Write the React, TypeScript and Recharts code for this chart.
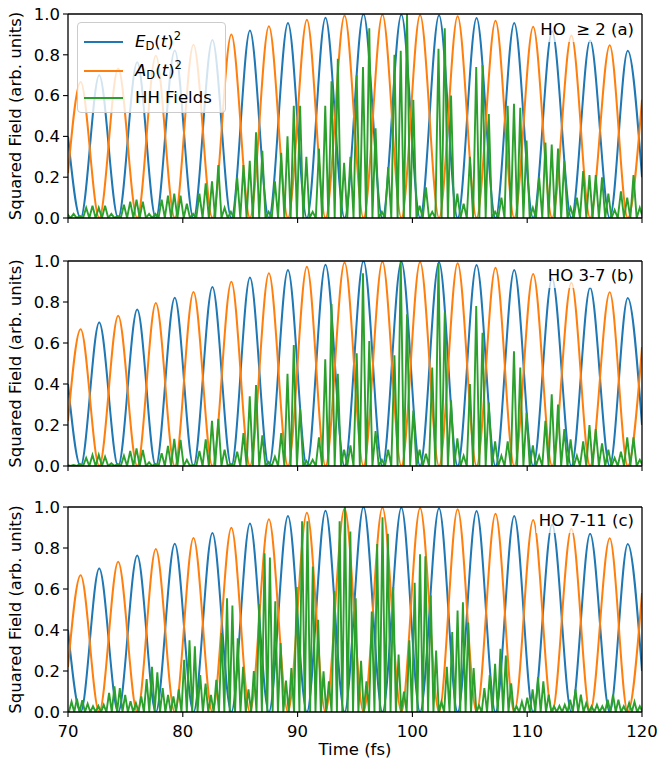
import React from 'react';
import { LineChart, Line, XAxis, YAxis, ReferenceLine, Legend } from 'recharts';

const FONT = '"DejaVu Sans", Verdana, sans-serif';
const BLUE = '#1f77b4';
const ORANGE = '#ff7f0e';
const GREEN = '#2ca02c';

const X_TICKS = [70, 80, 90, 100, 110, 120];
const Y_TICKS = [0, 0.2, 0.4, 0.6, 0.8, 1.0];

// driving field E_D(t)^2 : peaks (fs, value), zero where A_D(t)^2 peaks
const E_PEAK_T = [72.72, 76.03, 79.3, 82.58, 85.85, 89.16, 92.43, 95.74, 99.04, 102.32, 105.59, 108.87, 112.17, 115.48, 118.76];
const E_PEAK_V = [0.7, 0.763, 0.821, 0.873, 0.919, 0.956, 0.982, 1.0, 0.997, 0.994, 0.98, 0.956, 0.915, 0.87, 0.82];
const E_EDGE = [0.4, 0.2]; // value at 70 fs and 120 fs

// vector potential A_D(t)^2
const A_PEAK_T = [71.1, 74.37, 77.65, 80.93, 84.23, 87.5, 90.81, 94.09, 97.39, 100.67, 103.94, 107.24, 110.52, 113.85, 117.19];
const A_PEAK_V = [0.667, 0.733, 0.795, 0.849, 0.899, 0.94, 0.972, 0.993, 0.997, 0.995, 0.989, 0.967, 0.937, 0.894, 0.847];
const A_EDGE = [0.22, 0.58];

// HH field spikes, one value per burst peak
const HH_A_T0 = 69.94;
const HH_A_DT = 0.548;
const HH_A = [
  0.02, 0.02, 0.01, 0.05, 0.06, 0.05, 0.06, 0.02, 0.01, 0.065,
  0.08, 0.09, 0.08, 0.02, 0.02, 0.09, 0.11, 0.12, 0.11, 0.07,
  0.02, 0.12, 0.17, 0.18, 0.26, 0.05, 0.03, 0.2, 0.26, 0.28,
  0.42, 0.33, 0.03, 0.18, 0.32, 0.4, 0.55, 0.55, 0.3, 0.03,
  0.34, 0.55, 0.67, 0.78, 0.27, 0.3, 0.7, 0.74, 0.93, 0.44,
  0.03, 0.25, 0.8, 0.82, 1.0, 0.58, 0.06, 0.15, 0.03, 0.83,
  0.93, 0.6, 0.12, 0.07, 0.3, 0.74, 0.75, 0.51, 0.03, 0.1,
  0.55, 0.56, 0.54, 0.38, 0.05, 0.2, 0.37, 0.36, 0.34, 0.28,
  0.05, 0.1, 0.23, 0.21, 0.21, 0.2, 0.12, 0.04, 0.13, 0.1,
  0.21, 0.05,
];

const HH_B_T0 = 69.94;
const HH_B_DT = 0.548;
const HH_B = [
  0.005, 0.005, 0.01, 0.04, 0.054, 0.055, 0.045, 0.013, 0.01, 0.05,
  0.073, 0.086, 0.078, 0.018, 0.01, 0.062, 0.098, 0.133, 0.127, 0.03,
  0.005, 0.073, 0.13, 0.22, 0.23, 0.08, 0.01, 0.07, 0.16, 0.34,
  0.395, 0.15, 0.02, 0.045, 0.16, 0.45, 0.59, 0.28, 0.025, 0.03,
  0.14, 0.52, 0.79, 0.45, 0.08, 0.1, 0.55, 0.94, 0.61, 0.17,
  0.03, 0.08, 0.54, 1.0, 0.74, 0.27, 0.08, 0.06, 0.48, 0.99,
  0.75, 0.32, 0.135, 0.05, 0.4, 0.78, 0.65, 0.31, 0.12, 0.05,
  0.12, 0.56, 0.48, 0.26, 0.1, 0.05, 0.22, 0.35, 0.3, 0.18,
  0.13, 0.05, 0.12, 0.2, 0.18, 0.11, 0.08, 0.04, 0.07, 0.14,
  0.14, 0.03,
];

const HH_C_T0 = 70.31;
const HH_C_DT = 0.467;
const HH_C = [
  0.05, 0.065, 0.057, 0.04, 0.028, 0.03, 0.035, 0.093, 0.125, 0.117,
  0.084, 0.052, 0.044, 0.076, 0.16, 0.22, 0.193, 0.117, 0.084, 0.076,
  0.11, 0.255, 0.35, 0.32, 0.18, 0.138, 0.084, 0.157, 0.385, 0.555,
  0.52, 0.36, 0.22, 0.11, 0.2, 0.526, 0.774, 0.753, 0.54, 0.336,
  0.153, 0.214, 0.61, 0.93, 0.93, 0.71, 0.45, 0.198, 0.15, 0.59,
  0.93, 1.0, 0.88, 0.555, 0.25, 0.15, 0.49, 0.82, 0.95, 0.87,
  0.61, 0.28, 0.1, 0.35, 0.63, 0.77, 0.76, 0.57, 0.3, 0.05,
  0.22, 0.39, 0.495, 0.535, 0.437, 0.214, 0.032, 0.117, 0.18, 0.235,
  0.308, 0.276, 0.14, 0.028, 0.05, 0.07, 0.11, 0.17, 0.15, 0.085,
  0.028, 0.03, 0.035, 0.06, 0.11, 0.085, 0.044, 0.028, 0.035, 0.028,
  0.06, 0.085, 0.06, 0.028, 0.044, 0.05, 0.028,
];

const buildWave = (peakT: number[], peakV: number[], zeroT: number[], edge: number[]) => {
  const pts = [{ t: 70, v: edge[0] }];
  peakT.forEach((t, i) => pts.push({ t, v: peakV[i] }));
  zeroT.forEach((t) => pts.push({ t, v: 0 }));
  pts.push({ t: 120, v: edge[1] });
  return pts.sort((a, b) => a.t - b.t);
};

const buildSpikes = (t0: number, dt: number, vals: number[]) => {
  const pts: { t: number; v: number }[] = [];
  vals.forEach((v, i) => {
    pts.push({ t: t0 + (i - 0.5) * dt, v: 0 });
    pts.push({ t: t0 + i * dt, v });
  });
  pts.push({ t: t0 + (vals.length - 0.5) * dt, v: 0 });
  return pts;
};

const E_DATA = buildWave(E_PEAK_T, E_PEAK_V, A_PEAK_T, E_EDGE);
const A_DATA = buildWave(A_PEAK_T, A_PEAK_V, E_PEAK_T, A_EDGE);

const tickStyle = { fill: '#000', fontSize: 16.5, fontFamily: FONT };

const LegendBox = () => {
  const row = (top: number, color: string, label: React.ReactNode) => (
    <div style={{ position: 'absolute', left: 0, top: top - 10, height: 20, width: '100%' }}>
      <div style={{ position: 'absolute', left: 6, top: 9, width: 39, height: 2, background: color }} />
      <div style={{ position: 'absolute', left: 57, top: 0, lineHeight: '20px', whiteSpace: 'nowrap' }}>{label}</div>
    </div>
  );
  const sub = { fontSize: '0.7em', position: 'relative' as const, top: '0.3em', lineHeight: 0 };
  const sup = { fontSize: '0.7em', position: 'relative' as const, top: '-0.55em', lineHeight: 0 };
  return (
    <div
      style={{
        position: 'relative', width: 149, height: 91, boxSizing: 'border-box',
        border: '1px solid #cccccc', borderRadius: 4, background: 'rgba(255,255,255,0.8)',
        fontFamily: FONT, fontSize: 16.5, color: '#000',
      }}
    >
      {row(18.5, BLUE, <span><i>E</i><span style={sub}>D</span>(<i>t</i>)<span style={sup}>2</span></span>)}
      {row(47.5, ORANGE, <span><i>A</i><span style={sub}>D</span>(<i>t</i>)<span style={sup}>2</span></span>)}
      {row(75, GREEN, 'HH Fields')}
    </div>
  );
};

type PanelProps = {
  hh: { t: number; v: number }[];
  tag: string;
  top: number;
  marginTop: number;
  xHeight: number;
  bottom?: boolean;
  legend?: boolean;
  tagTop: number;
};

const Panel = ({ hh, tag, top, marginTop, xHeight, bottom, legend, tagTop }: PanelProps) => {
  const plotH = top === 0 ? 204 : 205;
  const height = marginTop + plotH + xHeight;
  return (
    <div style={{ position: 'absolute', left: 0, top, width: 659, height }}>
      <LineChart width={659} height={height} margin={{ top: marginTop, right: 17, bottom: 0, left: 0 }}>
        <XAxis
          type="number"
          dataKey="t"
          domain={[70, 120]}
          ticks={X_TICKS}
          interval={0}
          allowDataOverflow
          height={xHeight}
          stroke="#000"
          axisLine={{ stroke: '#000', strokeWidth: 1.3 }}
          tickLine={{ stroke: '#000', strokeWidth: 1.1 }}
          tickSize={5}
          tickMargin={8}
          tick={tickStyle}
          tickFormatter={bottom ? (v: number) => String(v) : () => ''}
          label={
            bottom
              ? {
                  content: (p: any) => {
                    const vb = p.viewBox || { x: 68, y: marginTop + plotH, width: 574 };
                    return (
                      <text x={vb.x + vb.width / 2} y={vb.y + 43} textAnchor="middle" fill="#000" fontSize={16.5} fontFamily={FONT}>
                        Time (fs)
                      </text>
                    );
                  },
                }
              : undefined
          }
        />
        <YAxis
          type="number"
          domain={[0, 1]}
          ticks={Y_TICKS}
          interval={0}
          allowDataOverflow
          width={68}
          stroke="#000"
          axisLine={{ stroke: '#000', strokeWidth: 1.3 }}
          tickLine={{ stroke: '#000', strokeWidth: 1.1 }}
          tickSize={5}
          tickMargin={3}
          tick={tickStyle}
          tickFormatter={(v: number) => v.toFixed(1)}
          label={{
            content: (p: any) => {
              const cy = p.viewBox ? p.viewBox.y + p.viewBox.height / 2 : marginTop + plotH / 2;
              return (
                <text
                  x={15}
                  y={cy}
                  transform={`rotate(-90 15 ${cy})`}
                  textAnchor="middle"
                  dominantBaseline="central"
                  fill="#000"
                  fontSize={16.5}
                  fontFamily={FONT}
                >
                  Squared Field (arb. units)
                </text>
              );
            },
          }}
        />
        <Line data={E_DATA} dataKey="v" name="E" type="monotone" stroke={BLUE} strokeWidth={2} dot={false} isAnimationActive={false} />
        <Line data={A_DATA} dataKey="v" name="A" type="monotone" stroke={ORANGE} strokeWidth={2} dot={false} isAnimationActive={false} />
        <Line data={hh} dataKey="v" name="HH Fields" type="linear" stroke={GREEN} strokeWidth={1.9} dot={false} isAnimationActive={false} />
        <ReferenceLine y={1} stroke="#000" strokeWidth={1.3} />
        <ReferenceLine x={120} stroke="#000" strokeWidth={1.3} />
        {legend && (
          <Legend
            layout="vertical"
            align="center"
            verticalAlign="middle"
            wrapperStyle={{ left: 77, top: 22, width: 149, height: 91 }}
            content={() => <LegendBox />}
          />
        )}
      </LineChart>
      <div
        style={{
          position: 'absolute', right: 22, top: tagTop - top - 12, padding: '2px 3px',
          lineHeight: '20px', background: 'rgba(255,255,255,0.7)', fontFamily: FONT,
          fontSize: 16.5, color: '#000', whiteSpace: 'pre',
        }}
      >
        {tag}
      </div>
    </div>
  );
};

export default function App() {
  return (
    <div style={{ position: 'absolute', left: 0, top: 0, width: 659, height: 764, background: '#fff' }}>
      <Panel hh={buildSpikes(HH_A_T0, HH_A_DT, HH_A)} tag={'HO  \u2265 2 (a)'} top={0} marginTop={14} xHeight={12} legend tagTop={30} />
      <Panel hh={buildSpikes(HH_B_T0, HH_B_DT, HH_B)} tag="HO 3-7 (b)" top={240} marginTop={21} xHeight={12} tagTop={276} />
      <Panel hh={buildSpikes(HH_C_T0, HH_C_DT, HH_C)} tag="HO 7-11 (c)" top={490} marginTop={17} xHeight={50} bottom tagTop={521} />
    </div>
  );
}
